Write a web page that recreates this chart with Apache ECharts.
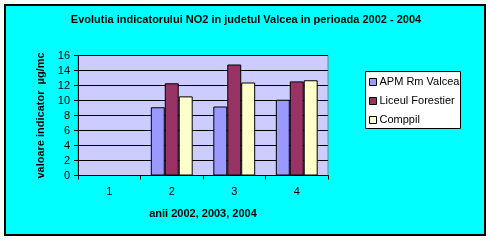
<!DOCTYPE html>
<html><head><meta charset="utf-8">
<script src="https://cdn.jsdelivr.net/npm/echarts@6/dist/echarts.min.js"></script>
<style>html,body{margin:0;padding:0;background:#fff;}#c{width:492px;height:241px;}</style>
</head><body><div id="c"></div>
<script>
const categories = ['1', '2', '3', '4'];
const apm = [null, 9.1, 9.2, 10.1];
const liceul = [null, 12.3, 14.8, 12.55];
const comppil = [null, 10.55, 12.4, 12.7];
const seriesNames = ['APM Rm Valcea', 'Liceul Forestier', 'Comppil'];
const yTicks = [0, 2, 4, 6, 8, 10, 12, 14, 16];

const chart = echarts.init(document.getElementById('c'), null, {renderer: 'canvas'});
const font = 'Arial, "Liberation Sans", sans-serif';
const colors = ['#9999FF', '#993366', '#FFFFCC'];
const data = [apm, liceul, comppil];
chart.setOption({
  animation: false,
  backgroundColor: '#ffffff',
  graphic: [
    {type: 'rect', z: -10, shape: {x: 5, y: 5, width: 480, height: 230},
     style: {fill: '#00FFFF', stroke: '#000', lineWidth: 2}},
    {type: 'rect', z: 5, shape: {x: 365.5, y: 71.5, width: 95, height: 57},
     style: {fill: '#fff', stroke: '#000', lineWidth: 1}}
  ],
  title: {
    text: 'Evolutia indicatorului NO2 in judetul Valcea in perioada 2002 - 2004',
    left: 246, top: 14, textAlign: 'center', padding: 0,
    textStyle: {fontFamily: font, fontSize: 11, fontWeight: 'bold', color: '#000'}
  },
  legend: {
    orient: 'vertical', left: 369, top: 76, padding: 0, itemGap: 7, itemWidth: 7, itemHeight: 7,
    z: 10,
    textStyle: {fontFamily: font, fontSize: 11, color: '#000', padding: [0, 0, 0, -2], lineHeight: 12},
    data: seriesNames.map((n, i) => ({name: n, icon: 'rect', itemStyle: {color: colors[i], borderColor: '#000', borderWidth: 1}}))
  },
  grid: {left: 78, top: 55.5, width: 250, height: 120, backgroundColor: '#CCCCFF', show: true, borderColor: '#808080', borderWidth: 1},
  xAxis: {
    type: 'category', data: categories,
    name: 'anii 2002, 2003, 2004', nameLocation: 'middle', nameGap: 33,
    nameTextStyle: {fontFamily: font, fontSize: 11, fontWeight: 'bold', color: '#000'},
    axisLine: {lineStyle: {color: '#000'}},
    axisTick: {show: true, length: 4, lineStyle: {color: '#000'}},
    axisLabel: {fontFamily: font, fontSize: 11, color: '#000', margin: 11}
  },
  yAxis: {
    type: 'value', min: 0, max: 16, interval: 2,
    name: 'valoare indicator  µg/mc', nameLocation: 'middle', nameGap: 28,
    nameTextStyle: {fontFamily: font, fontSize: 11, fontWeight: 'bold', color: '#000'},
    axisLine: {show: true, lineStyle: {color: '#000'}},
    axisTick: {show: true, length: 4, lineStyle: {color: '#000'}},
    axisLabel: {fontFamily: font, fontSize: 11, color: '#000', margin: 8,
      formatter: v => yTicks.includes(v) ? String(v) : ''},
    splitLine: {lineStyle: {color: '#000', width: 1}}
  },
  series: data.map((d, i) => ({
    name: seriesNames[i], type: 'bar', data: d,
    barGap: '0%', barCategoryGap: '33%',
    itemStyle: {color: colors[i], borderColor: '#000', borderWidth: 1}
  }))
});
</script></body></html>
